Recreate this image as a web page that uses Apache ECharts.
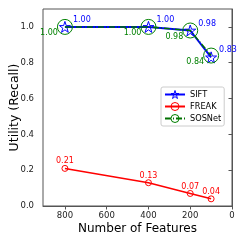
<!DOCTYPE html>
<html><head><meta charset="utf-8">
<script src="https://cdn.jsdelivr.net/npm/echarts@6/dist/echarts.min.js"></script>
<style>html,body{margin:0;padding:0;background:#fff}#c{width:245px;height:245px}</style>
</head><body><div id="c"></div>
<script>
const features = [800, 400, 200, 100];
const sift = [1.00, 1.00, 0.98, 0.83];
const freak = [0.21, 0.13, 0.07, 0.04];
const sosnet = [1.00, 1.00, 0.98, 0.84];
const xTicks = [0, 200, 400, 600, 800];
const yTicks = [0.0, 0.2, 0.4, 0.6, 0.8, 1.0];

const pairs = v => features.map((f, i) => [f, v[i]]);
const star = 'path://M50,0 L61.8,36.2 L100,36.2 L69.1,58.8 L80.9,95.1 L50,72.7 L19.1,95.1 L30.9,58.8 L0,36.2 L38.2,36.2 Z';
const font = 'DejaVu Sans';
const clear = 'rgba(255,255,255,0)';
const chart = echarts.init(document.getElementById('c'), null, {renderer: 'canvas'});
chart.setOption({
  animation: false,
  textStyle: {fontFamily: font},
  grid: {left: 43, right: 13, top: 9, bottom: 39, show: true, borderColor: '#555', borderWidth: 1,
    containLabel: false, outerBoundsMode: 'none'},
  xAxis: {
    type: 'value', inverse: true, min: 0, max: 905, interval: 200,
    name: 'Number of Features', nameLocation: 'middle', nameGap: 17, nameMoveOverlap: false,
    nameTextStyle: {fontSize: 12, color: '#000', fontFamily: font},
    axisLine: {show: true, lineStyle: {color: '#555'}},
    axisTick: {show: true, length: 3.5, lineStyle: {color: '#555'}},
    axisLabel: {fontSize: 8.5, color: '#222', margin: 5, showMaxLabel: false,
      formatter: v => xTicks.includes(v) ? String(v) : ''},
    splitLine: {show: false}
  },
  yAxis: {
    type: 'value', min: 0, max: 1.1, interval: 0.2,
    name: 'Utility (Recall)', nameLocation: 'middle', nameGap: 22, nameMoveOverlap: false,
    nameTextStyle: {fontSize: 12.5, color: '#000', fontFamily: font},
    axisLine: {show: true, lineStyle: {color: '#555'}},
    axisTick: {show: true, length: 3.5, lineStyle: {color: '#555'}},
    axisLabel: {fontSize: 8.5, color: '#222', margin: 9, showMaxLabel: false,
      formatter: v => yTicks.some(t => Math.abs(t - v) < 1e-6) ? v.toFixed(1) : ''},
    splitLine: {show: false}
  },
  legend: {
    orient: 'vertical', left: 161, top: 87, itemWidth: 20, itemHeight: 10, itemGap: 3,
    padding: [3, 3, 3, 3],
    borderColor: '#ccc', borderWidth: 1, borderRadius: 2, backgroundColor: '#fff',
    textStyle: {fontSize: 8.2, color: '#000', fontFamily: font},
    data: [
      {name: 'SIFT', itemStyle: {color: clear, borderColor: '#0000ff', borderWidth: 1}},
      {name: 'FREAK', itemStyle: {color: clear, borderColor: '#ff0000', borderWidth: 1}},
      {name: 'SOSNet', itemStyle: {color: clear, borderColor: '#008000', borderWidth: 1}}
    ]
  },
  series: [
    {
      name: 'SIFT', type: 'line', data: pairs(sift), z: 4,
      symbol: star, symbolSize: 11,
      itemStyle: {color: clear, borderColor: '#0000ff', borderWidth: 1},
      lineStyle: {color: '#0000ff', width: 2},
      label: {show: true, position: 'inside', align: 'left', verticalAlign: 'middle', offset: [8, -7],
        color: '#0000ff', fontSize: 8, fontFamily: font,
        formatter: p => p.value[1].toFixed(2)}
    },
    {
      name: 'FREAK', type: 'line', data: pairs(freak), z: 3,
      symbol: 'circle', symbolSize: 6,
      itemStyle: {color: clear, borderColor: '#ff0000', borderWidth: 1},
      lineStyle: {color: '#ff0000', width: 1.5},
      label: {show: true, position: 'inside', align: 'center', verticalAlign: 'middle', offset: [0, -7],
        color: '#ff0000', fontSize: 8, fontFamily: font,
        formatter: p => p.value[1].toFixed(2)}
    },
    {
      name: 'SOSNet', type: 'line', data: pairs(sosnet), z: 5,
      symbol: 'circle', symbolSize: 15,
      itemStyle: {color: clear, borderColor: '#008000', borderWidth: 1},
      lineStyle: {color: '#007000', width: 1.5, type: [6, 2, 1, 2]},
      label: {show: true, position: 'inside', align: 'right', verticalAlign: 'middle', offset: [-7, 6],
        color: '#008000', fontSize: 8, fontFamily: font,
        formatter: p => p.value[1].toFixed(2)}
    }
  ]
});
</script></body></html>
